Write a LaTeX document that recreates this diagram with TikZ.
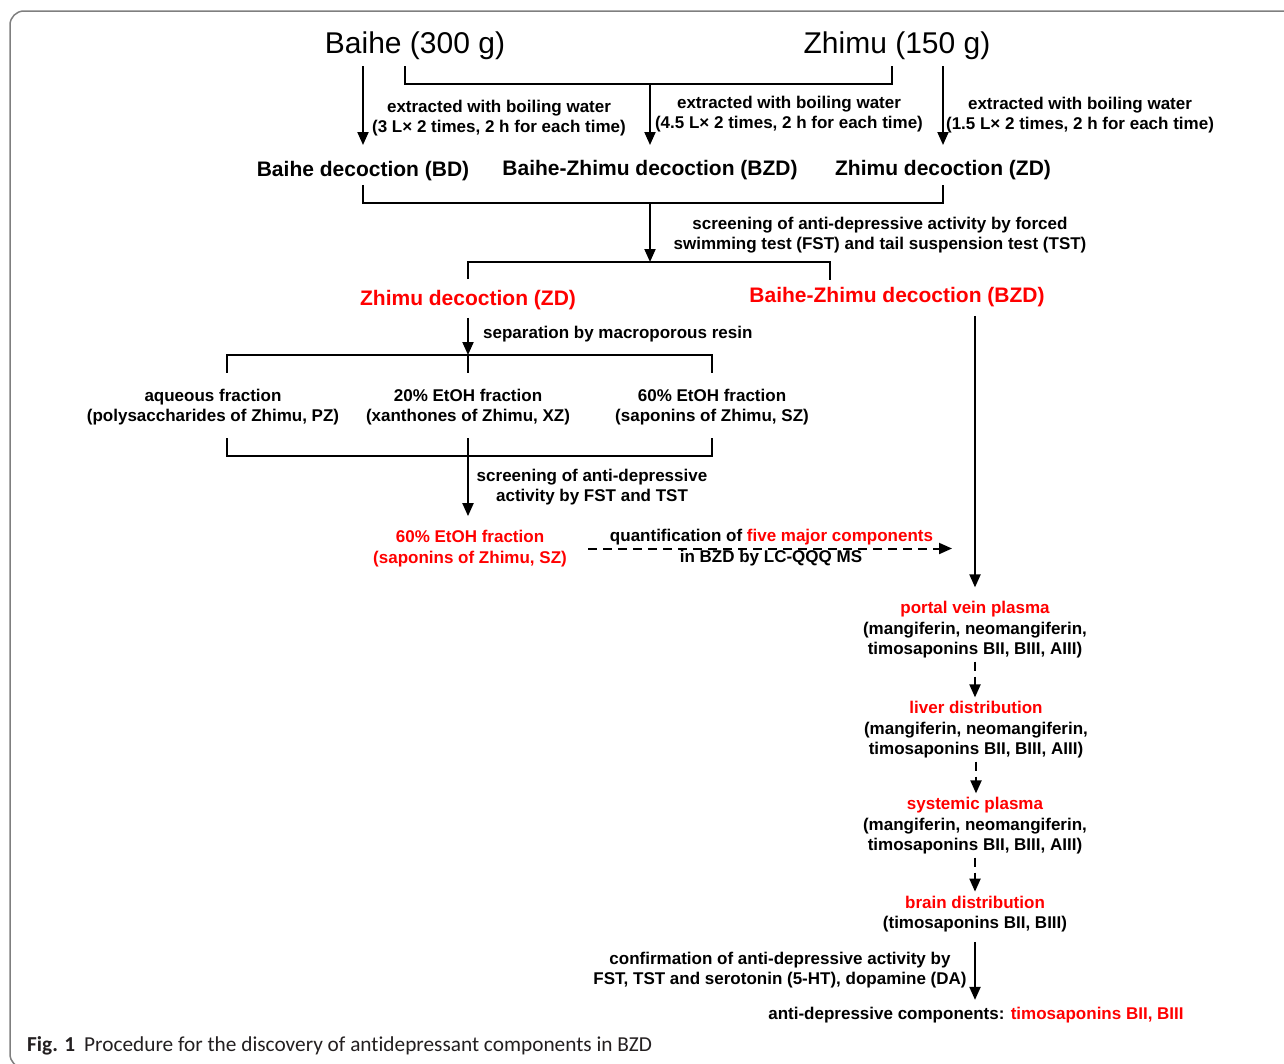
\documentclass[tikz,border=0pt]{standalone}
\usepackage{fontspec}
\setmainfont{Liberation Sans}
\newfontfamily\capfont[Ligatures=NoCommon]{Carlito}
\usetikzlibrary{arrows.meta,positioning}
\definecolor{hotred}{HTML}{FF0000}
\definecolor{framegray}{HTML}{7F7F7F}
\definecolor{captxt}{HTML}{231F20}

\begin{document}
\begin{tikzpicture}[
  x=1pt, y=-1pt,
  line/.style={line width=2pt},
  arr/.style={line width=2pt, -{Triangle[length=13pt,width=11pt]}},
  darr/.style={arr, dash pattern=on 9pt off 6pt},
  herb/.style={font=\fontsize{30}{36}\selectfont, inner sep=0pt},
  dec/.style={font=\bfseries\fontsize{21}{25}\selectfont, inner sep=0pt},
  note/.style={font=\bfseries\fontsize{17}{20.5}\selectfont, align=center, inner sep=0pt},
  hot/.style={text=hotred}
]
\useasboundingbox (0,0) rectangle (1284,1063);
\clip (0,0) rectangle (1284,1063);
\draw[framegray, line width=1.5pt, rounded corners=14pt] (10,11) rectangle (1298,1068);

% --- herbs and decoctions ---
\node[herb] (baihe) at (415,46) {Baihe (300 g)};
\node[herb] (zhimu) at (897,46) {Zhimu (150 g)};

\node[dec] (bd)  at (363,171) {Baihe decoction (BD)};
\node[dec] (bzd) at (650,170) {Baihe-Zhimu decoction (BZD)};
\node[dec] (zd)  at (943,170) {Zhimu decoction (ZD)};

\foreach \n/\x/\y/\v in {ext1/499/118/3, ext2/789/114/4.5, ext3/1080/115/1.5}
  \node[note] (\n) at (\x,\y) {extracted with boiling water\\(\v\ L× 2 times, 2 h for each time)};

\coordinate (mix) at (650,84);
\draw[arr, shorten <=6pt, shorten >=16pt] (baihe.south -| bd) -- (bd.north);
\draw[line] ([xshift=-10pt,yshift=-6pt]baihe.south) |- (mix) -| ([xshift=-5pt,yshift=-6pt]zhimu.south);
\draw[arr, shorten >=15pt] (mix) -- (bzd.north);
\draw[arr, shorten <=6pt, shorten >=15pt] (zhimu.south -| zd) -- (zd.north);

% --- first screening ---
\node[note] (scr1) at (880,235) {screening of anti-depressive activity by forced\\swimming test (FST) and tail suspension test (TST)};
\node[dec, hot] (zdr)  at (468,300) {Zhimu decoction (ZD)};
\node[dec, hot] (bzdr) at (897,297) {Baihe-Zhimu decoction (BZD)};

\coordinate (pool)  at (650,203);
\coordinate (split) at (650,262);
\draw[line] ([yshift=-4pt]bd.south) |- (pool) -| ([yshift=-5pt]zd.south);
\draw[arr] (pool) -- (split);
\draw[line] ([yshift=11pt]zdr.north) |- (split) -| ([xshift=-67pt,yshift=7pt]bzdr.north);

% --- resin fractions ---
\node[note, anchor=west] (resinlbl) at (483,334) {separation by macroporous resin};
\node[note] (aq)  at (213,407) {aqueous fraction\\(polysaccharides of Zhimu, PZ)};
\node[note] (x20) at (468,407) {20\% EtOH fraction\\(xanthones of Zhimu, XZ)};
\node[note] (s60) at (712,407) {60\% EtOH fraction\\(saponins of Zhimu, SZ)};

\coordinate (resin) at (468,355);
\coordinate (pool2) at (468,456);
\draw[arr, shorten <=8pt] (zdr.south) -- (resin);
\draw[line] ([xshift=14pt,yshift=16pt]aq.north) |- (resin) -| ([yshift=16pt]s60.north);
\draw[line] ([yshift=16pt]x20.north) -- (resin);
\draw[line] ([xshift=14pt,yshift=-13pt]aq.south) |- (pool2) -| ([yshift=-13pt]s60.south);

% --- second screening ---
\node[note] (scr2) at (592,487) {screening of anti-depressive\\activity by FST and TST};
\node[note, hot] (sz) at (470,548.5) {60\% EtOH fraction\\(saponins of Zhimu, SZ)};
\draw[arr, shorten >=14pt] ([yshift=-13pt]x20.south) -- (x20.south |- sz.north);

\node[note] (quant1) at (771.5,537.5) {quantification of \textcolor{hotred}{five major components}};
\node[note] (quant2) at (771,558) {in BZD by LC-QQQ MS};

% --- distribution chain ---
\node[note] (portal)   at (975,630) {\textcolor{hotred}{portal vein plasma}\\(mangiferin, neomangiferin,\\timosaponins BII, BIII, AIII)};
\node[note] (liver)    at (976,730) {\textcolor{hotred}{liver distribution}\\(mangiferin, neomangiferin,\\timosaponins BII, BIII, AIII)};
\node[note] (systemic) at (975,826) {\textcolor{hotred}{systemic plasma}\\(mangiferin, neomangiferin,\\timosaponins BII, BIII, AIII)};
\node[note] (brain)    at (975,914) {\textcolor{hotred}{brain distribution}\\(timosaponins BII, BIII)};

\draw[darr, shorten <=21pt, shorten >=23pt] (sz.east) -- (sz.east -| portal);
\draw[arr, shorten <=9pt, shorten >=14pt] (bzdr.south -| portal) -- (portal.north);
\foreach \a/\b in {portal/liver, liver/systemic, systemic/brain}
  \draw[darr, shorten <=3pt, shorten >=4pt] (\a.south) -- (\a.south |- \b.north);

% --- confirmation ---
\node[note] (confirm) at (780,970) {confirmation of anti-depressive activity by\\FST, TST and serotonin (5-HT), dopamine (DA)};
\node[note] (final) at (976,1015) {anti-depressive components: \textcolor{hotred}{timosaponins BII, BIII}};
\draw[arr, shorten <=9.5pt, shorten >=7pt] (brain.south) -- (brain.south |- final.north);

% --- caption ---
\node[anchor=west, inner sep=0pt, text=captxt, font=\capfont\fontsize{21.3}{25}\selectfont] (caption) at (27,1046)
  {\textbf{Fig. 1}\hspace{9pt}Procedure for the discovery of antidepressant components in BZD};

\end{tikzpicture}
\end{document}
